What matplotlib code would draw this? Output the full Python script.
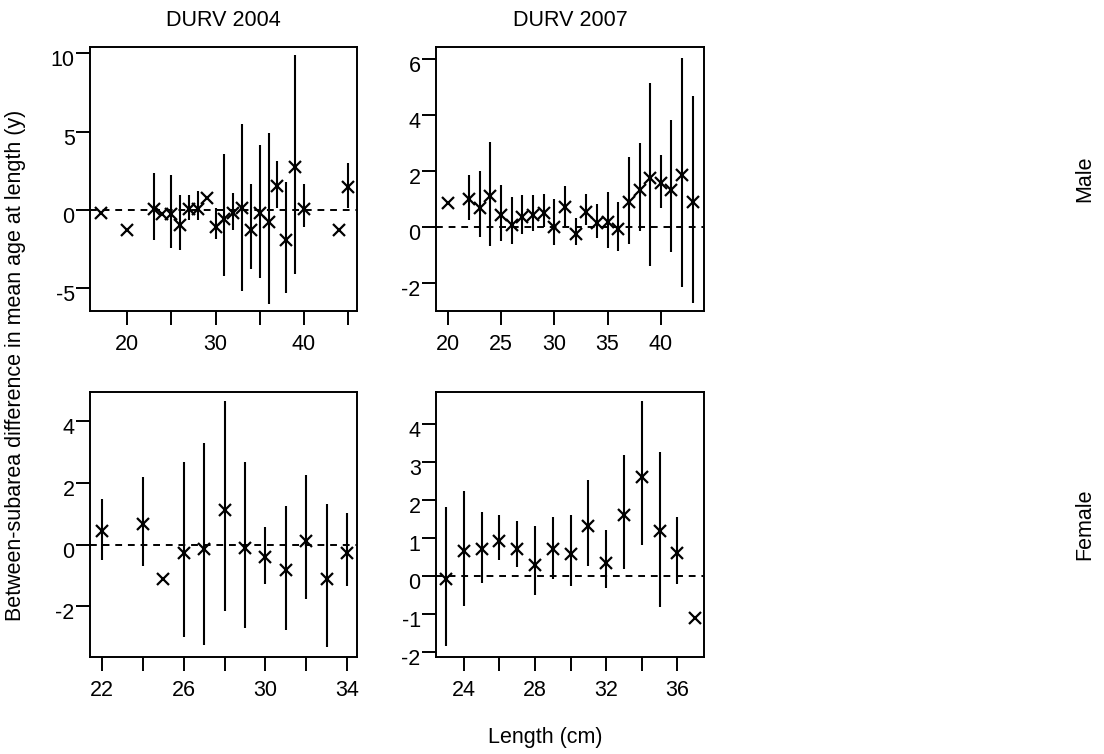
from __future__ import annotations

import matplotlib

matplotlib.use("Agg")
import matplotlib.pyplot as plt
import numpy as np
from matplotlib.transforms import ScaledTranslation

nan = np.nan

# DURV 2004, male
m04_length = [17, 20, 23, 24, 25, 26, 27, 28, 29, 30, 31, 32, 33, 34, 35, 36, 37, 38, 39, 40, 44, 45]
m04_diff = [-0.2, -1.25, 0.05, -0.25, -0.26, -0.97, 0.04, 0.04, 0.75, -1.08, -0.58, -0.22, 0.1, -1.29,
            -0.17, -0.8, 1.51, -1.9, 2.76, 0.04, -1.29, 1.47]
m04_lo = [nan, nan, -1.94, nan, -2.41, -2.54, -0.65, -0.65, nan, -1.83, -4.2, -1.25, -5.17, -3.77,
          -4.35, -5.99, 0.1, -5.28, -4.09, -1.12, nan, 0.15]
m04_hi = [nan, nan, 2.37, nan, 2.26, 0.97, 0.95, 1.18, nan, 0.1, 3.56, 1.08, 5.5, 1.66,
          4.16, 4.91, 3.12, 1.79, 9.87, 1.66, nan, 2.97]

# DURV 2007, male
m07_length = [20, 22, 23, 24, 25, 26, 27, 28, 29, 30, 31, 32, 33, 34, 35, 36, 37, 38, 39, 40, 41, 42, 43]
m07_diff = [0.86, 0.98, 0.68, 1.1, 0.42, 0.06, 0.36, 0.42, 0.51, 0.0, 0.71, -0.24, 0.54, 0.12,
            0.18, -0.06, 0.89, 1.33, 1.73, 1.55, 1.33, 1.87, 0.87]
m07_lo = [nan, 0.24, -0.36, -0.68, -0.5, -0.63, -0.24, -0.15, 0.0, -0.65, 0.04, -0.65, 0.06, -0.39,
          -0.74, -0.87, -0.63, -0.15, -1.39, 0.68, -0.89, -2.14, -2.71]
m07_hi = [nan, 1.85, 2.0, 3.04, 1.51, 1.07, 1.13, 1.13, 1.19, 1.01, 1.46, 0.3, 1.19, 0.8,
          1.25, 0.87, 2.5, 2.98, 5.14, 2.56, 3.83, 6.04, 4.67]

# DURV 2004, female
f04_length = [22, 24, 25, 26, 27, 28, 29, 30, 31, 32, 33, 34]
f04_diff = [0.45, 0.67, -1.11, -0.27, -0.13, 1.13, -0.11, -0.41, -0.81, 0.13, -1.11, -0.27]
f04_lo = [-0.49, -0.68, nan, -2.99, -3.24, -2.16, -2.7, -1.27, -2.77, -1.76, -3.31, -1.33]
f04_hi = [1.48, 2.21, nan, 2.68, 3.29, 4.66, 2.68, 0.59, 1.26, 2.27, 1.33, 1.02]

# DURV 2007, female
f07_length = [23, 24, 25, 26, 27, 28, 29, 30, 31, 32, 33, 34, 35, 36, 37]
f07_diff = [-0.09, 0.64, 0.7, 0.92, 0.71, 0.29, 0.71, 0.58, 1.3, 0.33, 1.59, 2.61, 1.18, 0.6, -1.11]
f07_lo = [-1.86, -0.79, -0.18, 0.42, 0.22, -0.52, -0.08, -0.26, 0.26, -0.31, 0.18, 0.8, -0.81, -0.22, nan]
f07_hi = [1.82, 2.22, 1.69, 1.61, 1.45, 1.3, 1.54, 1.61, 2.51, 1.21, 3.18, 4.61, 3.25, 1.54, nan]

W, H = 1104, 754
FONT = 15.5

plt.rcParams["font.family"] = ["Liberation Sans", "DejaVu Sans"]
plt.rcParams["font.size"] = FONT


def add_panel(fig, box, length, diff, lo, hi, xlim, ylim, xticks, xlabels, yticks, title=None):
    left, top, right, bottom = box
    ax = fig.add_axes([left / W, 1 - bottom / H, (right - left) / W, (bottom - top) / H])
    ax.axhline(0, color="black", lw=1.4, dashes=(3.5, 3))
    ax.vlines(length, lo, hi, color="black", lw=1.5)
    ax.plot(length, diff, ls="none", marker="x", ms=8.5, mew=1.6, color="black")
    ax.set_xlim(*xlim)
    ax.set_ylim(*ylim)
    ax.set_xticks(xticks, xlabels)
    ax.set_yticks(yticks, [f"{t:g}" for t in yticks])
    ax.tick_params(axis="both", direction="out", length=10, width=1.4, labelsize=FONT)
    ax.tick_params(axis="x", pad=6.5)
    ax.tick_params(axis="y", pad=1)
    for label in ax.get_yticklabels():
        label.set_transform(label.get_transform() + ScaledTranslation(0, -5 / 100, fig.dpi_scale_trans))
    for spine in ax.spines.values():
        spine.set_linewidth(1.4)
    if title:
        ax.set_title(title, fontsize=FONT, pad=15)
    return ax


fig = plt.figure(figsize=(W / 100, H / 100), dpi=100)

add_panel(fig, (90, 47, 357, 311), m04_length, m04_diff, m04_lo, m04_hi, (15.8, 46.0), (-6.45, 10.4),
          [20, 25, 30, 35, 40, 45], ["20", "", "30", "", "40", ""], [-5, 0, 5, 10], "DURV 2004")
add_panel(fig, (436, 47, 704, 311), m07_length, m07_diff, m07_lo, m07_hi, (18.9, 44.05), (-3.01, 6.43),
          [20, 25, 30, 35, 40], ["20", "25", "30", "35", "40"], [-2, 0, 2, 4, 6], "DURV 2007")
add_panel(fig, (90, 392, 357, 657), f04_length, f04_diff, f04_lo, f04_hi, (21.43, 34.47), (-3.64, 4.95),
          [22, 24, 26, 28, 30, 32, 34], ["22", "", "26", "", "30", "", "34"], [-2, 0, 2, 4])
add_panel(fig, (436, 392, 704, 657), f07_length, f07_diff, f07_lo, f07_hi, (22.43, 37.5), (-2.14, 4.84),
          [24, 26, 28, 30, 32, 34, 36], ["24", "", "28", "", "32", "", "36"], [-2, -1, 0, 1, 2, 3, 4])

fig.text(16 / W, 1 - 365 / H, "Between-subarea difference in mean age at length (y)",
         rotation=90, ha="center", va="center")
fig.text(545 / W, 1 - 737 / H, "Length (cm)", ha="center", va="center")
fig.text(1085 / W, 1 - 179 / H, "Male", rotation=90, ha="center", va="center")
fig.text(1085 / W, 1 - 524 / H, "Female", rotation=90, ha="center", va="center")

fig.savefig("out.png", dpi=100)
